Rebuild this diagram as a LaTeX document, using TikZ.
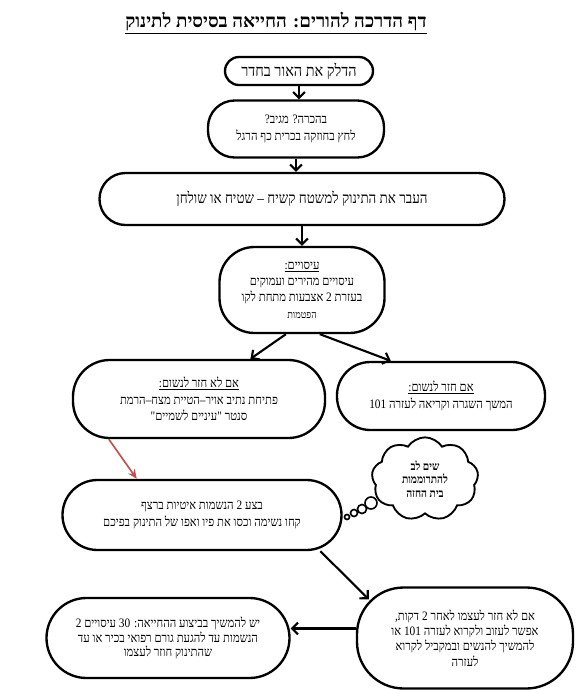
\documentclass[tikz,border=0pt]{standalone}
\usepackage{fontspec}
\usetikzlibrary{arrows.meta,shapes.symbols,calc}
\newfontfamily\heb[Script=Hebrew,FakeStretch=0.88]{Liberation Serif}
\newfontfamily\hebtitle[Script=Hebrew]{Liberation Serif}
\TeXXeTstate=1
\newcommand{\hebl}[1]{\beginR#1\endR}
\definecolor{hintred}{RGB}{192,80,77}

\begin{document}
\begin{tikzpicture}[x=0.03cm, y=-0.03cm,
  box/.style={draw, line width=2pt, rounded corners=#1, align=center, inner sep=0pt,
    font=\heb\fontsize{11}{14}\selectfont},
  box/.default=0.5cm,
  puff/.style={circle, draw, line width=1.4pt, inner sep=0pt},
  flow/.style={line width=1.8pt, -{Straight Barb[length=5pt,width=10pt]}},
  hint/.style={line width=1.4pt, hintred, -{Stealth[length=8pt,width=7pt]}}]
  \useasboundingbox (0,0) rectangle (582,690);

  \node[font=\hebtitle\bfseries\fontsize{16}{18}\selectfont] (title) at (276,23)
    {\underline{\hebl{דף הדרכה להורים: החייאה בסיסית לתינוק}}};

  \node[box=0.42cm, minimum width=4.44cm, minimum height=0.84cm,
    font=\heb\fontsize{14}{16}\selectfont] (light) at (299,71)
    {\hebl{הדלק את האור בחדר}};
  \node[box=0.8cm, minimum width=5.28cm, minimum height=1.71cm] (check) at (296,129)
    {\hebl{בהכרה? מגיב?}\\\hebl{לחץ בחוזקה בכרית כף הרגל}};
  \node[box=0.78cm, minimum width=12.15cm, minimum height=1.56cm,
    font=\heb\fontsize{13}{16}\selectfont] (move) at (302,199)
    {\hebl{העבר את התינוק למשטח קשיח – שטיח או שולחן}};
  \node[box=1.05cm, minimum width=4.95cm, minimum height=2.58cm] (comp) at (302,290)
    {\underline{\hebl{עיסויים:}}\\\hebl{עיסויים מהירים ועמוקים}\\
     \hebl{בעזרת 2 אצבעות מתחת לקו}\\{\small\hebl{הפטמות}}};

  \node[box=1.1cm, minimum width=7.56cm, minimum height=2.34cm] (noBreath) at (199,399)
    {\underline{\hebl{אם לא חזר לנשום:}}\\\hebl{פתיחת נתיב אויר–הטיית מצח–הרמת}\\
     \hebl{סנטר "עיניים לשמיים"}};
  \node[box=1.0cm, minimum width=6.24cm, minimum height=2.04cm] (breath) at (441,396)
    {\underline{\hebl{אם חזר לנשום:}}\\\hebl{המשך השגרה וקריאה לעזרה \beginL101\endL}};

  \node[box=1.05cm, minimum width=8.37cm, minimum height=2.1cm] (breaths) at (202,515)
    {\hebl{בצע 2 הנשמות איטיות ברצף}\\\hebl{קחו נשימה וכסו את פיו ואפו של התינוק בפיכם}};

  \node[cloud, draw, line width=1.6pt, cloud puffs=9, cloud puff arc=115, aspect=1.3,
    minimum width=3.2cm, minimum height=2.5cm, inner sep=0pt, align=center,
    font=\heb\bfseries\fontsize{10}{11.5}\selectfont] (note) at (425,479)
    {\hebl{שים לב}\\\hebl{להתרוממות}\\\hebl{בית החזה}};
  \node[puff, minimum size=0.36cm] (puffA) at (371,503) {};
  \node[puff, minimum size=0.27cm] (puffB) at (362,509) {};
  \node[puff, minimum size=0.21cm] (puffC) at (354,513) {};
  \node[puff, minimum size=0.15cm] (puffD) at (347,517) {};

  \node[box=1.4cm, minimum width=6.48cm, minimum height=3.03cm,
    font=\heb\fontsize{11}{13}\selectfont] (twoMin) at (465,638)
    {\hebl{אם לא חזר לעצמו לאחר 2 דקות,}\\\hebl{אפשר לעזוב ולקרוא לעזרה \beginL101\endL{} או}\\
     \hebl{להמשיך להנשים ובמקביל לקרוא}\\\hebl{לעזרה}};
  \node[box=1.2cm, minimum width=7.29cm, minimum height=2.4cm,
    font=\heb\fontsize{11}{12.5}\selectfont] (cont) at (168,638)
    {\hebl{יש להמשיך בביצוע ההחייאה: \beginL30\endL{} עיסויים 2}\\
     \hebl{הנשמות עד להגעת גורם רפואי בכיר או עד}\\\hebl{שהתינוק חוזר לעצמו}};
  \coordinate (twoMinIn) at ([shift={(13,13)}]twoMin.north west);

  \draw[flow] (light.south) -- (light.south |- check.north);
  \draw[flow] (check.south) -- (check.south |- move.north);
  \draw[flow] (move.south -| comp.north) -- (comp.north);
  \draw[flow] (comp.250) -- (noBreath.38);
  \draw[flow] (comp.292) -- (breath.145);
  \draw[hint] (noBreath.204) -- (breaths.151);
  \draw[flow] (breaths.-17) -- (twoMinIn);
  \draw[flow] (twoMin.175) -- (twoMin.175 -| cont.east);
\end{tikzpicture}
\end{document}
